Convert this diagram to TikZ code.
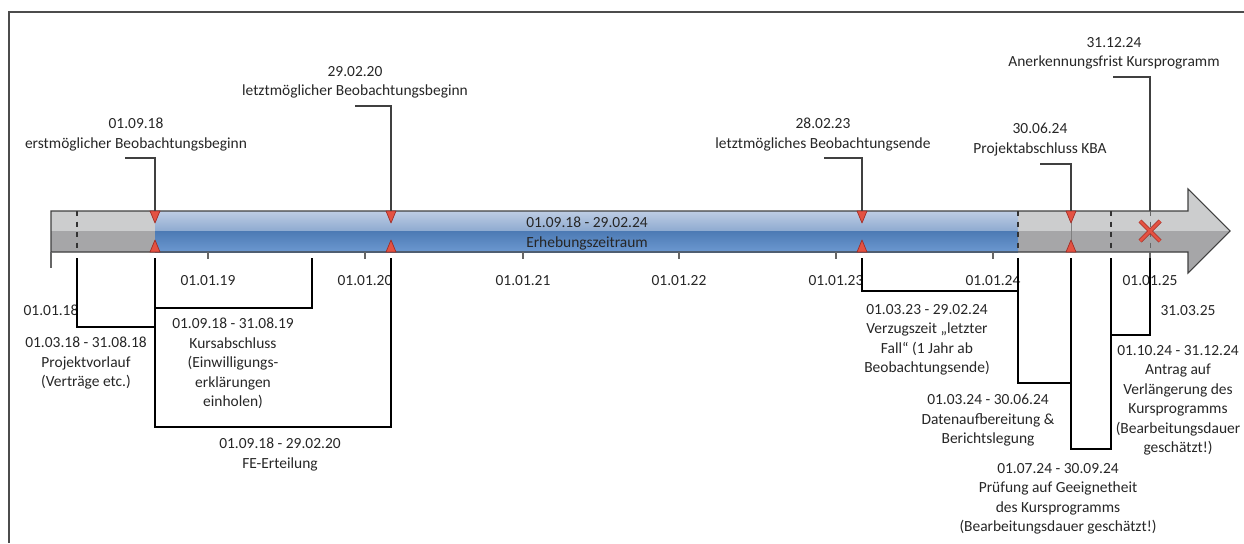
\documentclass[tikz,border=0pt]{standalone}
\usepackage{fontspec}
\setmainfont{Carlito}
\usepackage{tikz}

\definecolor{balkenhell}{RGB}{204,205,206}
\definecolor{balkendunkel}{RGB}{166,166,168}
\definecolor{blauA}{RGB}{190,205,228}
\definecolor{blauB}{RGB}{142,170,208}
\definecolor{blauC}{RGB}{76,122,180}
\definecolor{blauD}{RGB}{108,152,208}
\definecolor{markerrot}{RGB}{228,82,66}
\definecolor{markerrand}{RGB}{160,45,38}

\begin{document}
\begin{tikzpicture}[x=0.2mm, y=-0.2mm,
	txt/.style={font=\fontsize{8.8}{11.1}\selectfont, text=black!85, align=center,
		anchor=north, inner sep=0pt, execute at begin node=\strut},
	linie/.style={draw=black!75, line width=0.7pt},
	klammer/.style={draw=black, line width=1.1pt},
	marke/.style={fill=markerrot, draw=markerrand, line width=0.4pt, line join=round},
	trenner/.style={draw=black!80, dashed, line width=0.6pt}]
\useasboundingbox (0,0) rectangle (1244,543);
% frame
	\draw[draw=black!70, line width=0.8pt] (1244,12) -- (9,12) -- (9,543);

% dates on the bar (o = top edge, u = below the bar)
	\foreach \n/\x in {1803/77, 1809/155, 1909/312, 2003/391, 2303/862,
			2403/1018, 2407/1071, 2410/1111, 2501/1150} {
		\coordinate (o\n) at (\x,211);
		\coordinate (u\n) at (\x,258);
	}

% arrow
	\fill[balkenhell] (51,211) -- (1188,211) -- (1188,189) -- (1230,231)
		-- (1188,273) -- (1188,252) -- (51,252) -- cycle;
	\fill[balkendunkel] (51,231) -- (1230,231) -- (1188,273) -- (1188,252) -- (51,252) -- cycle;
	\shade[top color=blauA, bottom color=blauB] (155,211) rectangle (1018,231);
	\shade[top color=blauC, bottom color=blauD] (155,231) rectangle (1018,252);
	\draw[draw=black!75, line width=0.6pt] (51,211) -- (1188,211) -- (1188,189) -- (1230,231)
		-- (1188,273) -- (1188,252) -- (51,252) -- cycle;
	\node[txt] (erhebung) at (587,217) {01.09.18 - 29.02.24\\Erhebungszeitraum};

% separators in the bar
	\draw[trenner] (77,211) -- (77,252);
	\draw[trenner] (1018,211) -- (1018,252);
	\draw[trenner] (1111,211) -- (1111,252);
	\draw[trenner, black!60, line width=0.5pt] (1150,211) -- (1150,252);
	\draw[draw=black!50, line width=0.5pt] (1071,211) -- (1071,252);

% year ticks
	\draw[draw=black!60, line width=0.6pt] (51,252) -- (51,268);
	\foreach \x/\j in {208/19, 365/20, 523/21, 679/22, 836/23, 993/24, 1150/25} {
		\draw[draw=black!60, line width=0.6pt] (\x,252) -- (\x,259);
		\node[txt] (jahr\j) at (\x,271) {01.01.\j};
	}
	\node[txt] (jahr18) at (51,301) {01.01.18};
	\node[txt] (ende) at (1188,301) {31.03.25};

% markers
	\foreach \x in {155, 391, 862, 1071} {
		\draw[marke] (\x-5,211) -- (\x+5,211) -- (\x,223) -- cycle;
		\draw[marke] (\x-5,252) -- (\x+5,252) -- (\x,240) -- cycle;
	}
	\draw[draw=markerrand, line width=2.4pt] (1140,221) -- (1160,241) (1140,241) -- (1160,221);
	\draw[draw=markerrot, line width=1.6pt] (1140,221) -- (1160,241) (1140,241) -- (1160,221);

% milestones above
	\node[txt] (m1809) at (136,118) {01.09.18\\erstmöglicher Beobachtungsbeginn};
	\draw[linie] (o1809) -- ++(0,-53) -- ++(-30,0);
	\node[txt] (m2003) at (355,66) {29.02.20\\letztmöglicher Beobachtungsbeginn};
	\draw[linie] (o2003) -- ++(0,-105) -- ++(-36,0);
	\node[txt] (m2303) at (823,118) {28.02.23\\letztmögliches Beobachtungsende};
	\draw[linie] (o2303) -- ++(0,-53) -- ++(-38,0);
	\node[txt] (m2407) at (1040,123) {30.06.24\\Projektabschluss KBA};
	\draw[linie] (o2407) -- ++(0,-47) -- ++(-31,0);
	\node[txt] (m2501) at (1114,37) {31.12.24\\Anerkennungsfrist Kursprogramm};
	\draw[linie] (o2501) -- ++(0,-134) -- ++(-37,0);

% phases below
	\draw[klammer] (u1803) -- ++(0,69) -| (u1809);
	\node[txt] (vorlauf) at (86,337) {01.03.18 - 31.08.18\\Projektvorlauf\\(Verträge etc.)};
	\draw[klammer] (u1809) -- ++(0,50) -| (u1909);
	\node[txt] (kurs) at (233,318) {01.09.18 - 31.08.19\\Kursabschluss\\(Einwilligungs-\\erklärungen\\einholen)};
	\draw[klammer] (u1809) -- ++(0,169) -| (u2003);
	\node[txt] (fe) at (280,438) {01.09.18 - 29.02.20\\FE-Erteilung};
	\draw[klammer] (u2303) -- ++(0,33) -| (u2403);
	\node[txt] (verzug) at (927,304) {01.03.23 - 29.02.24\\Verzugszeit „letzter\\Fall“ (1 Jahr ab\\Beobachtungsende)};
	\draw[klammer] (u2403) -- ++(0,125) -| (u2407);
	\node[txt] (daten) at (988,394) {01.03.24 - 30.06.24\\Datenaufbereitung \&\\Berichtslegung};
	\draw[klammer] (u2407) -- ++(0,191) -| (u2410);
	\node[txt] (pruefung) at (1058,463) {01.07.24 - 30.09.24\\Prüfung auf Geeignetheit\\des Kursprogramms\\(Bearbeitungsdauer geschätzt!)};
	\draw[klammer] (u2410) -- ++(0,77) -| (u2501);
	\node[txt] (antrag) at (1178,345) {01.10.24 - 31.12.24\\Antrag auf\\Verlängerung des\\Kursprogramms\\(Bearbeitungsdauer\\geschätzt!)};
\end{tikzpicture}
\end{document}
